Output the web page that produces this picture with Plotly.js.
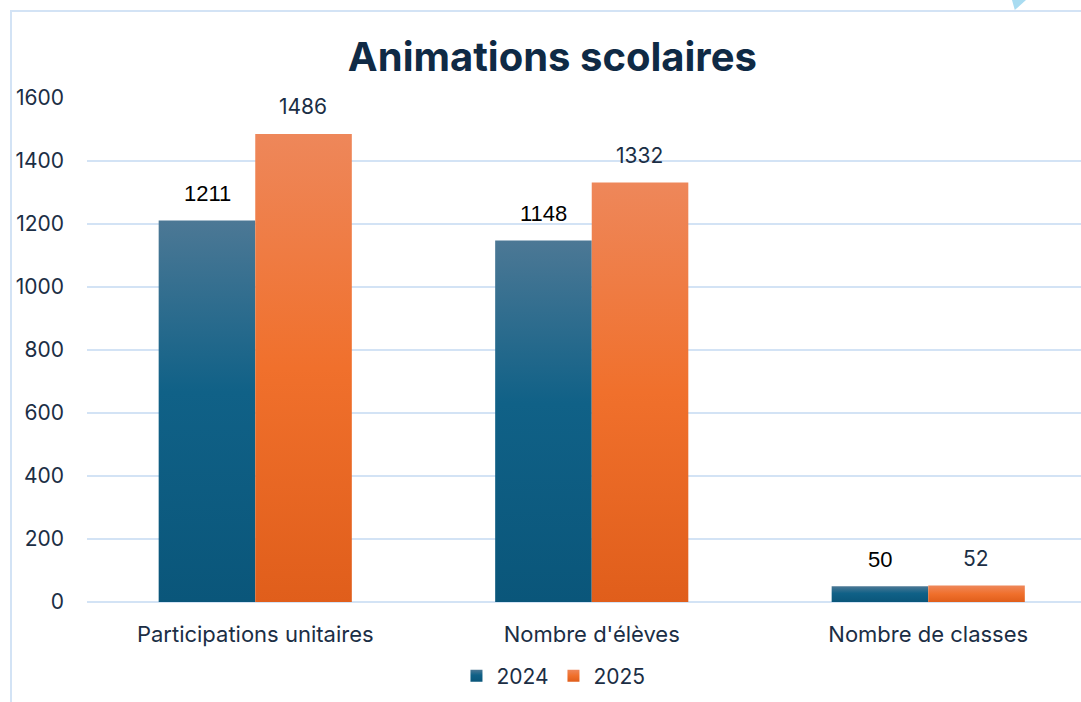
<!DOCTYPE html>
<html>
<head>
<meta charset="utf-8">
<script src="https://cdn.plot.ly/plotly-3.0.1.min.js"></script>
<style>
  html, body { margin: 0; padding: 0; background: #fff; }
  #myGraph { width: 1081px; height: 702px; }
  /* cadre bleu clair (haut + gauche) */
  #cadre {
    position: absolute; left: 10px; top: 10px; right: 0; bottom: 0;
    border-top: 2px solid #d3e3f5; border-left: 2px solid #d3e3f5;
    pointer-events: none;
  }
  #coin {
    position: absolute; left: 1012px; top: 0; width: 14px; height: 10px;
    background: #a9dcf1; clip-path: polygon(0 0, 100% 0, 20% 100%);
    pointer-events: none;
  }
</style>
</head>
<body>
<div id="myGraph"></div>
<div id="cadre"></div>
<div id="coin"></div>
<script>
// données
let categories = ["Participations unitaires", "Nombre d'élèves", "Nombre de classes"];
let annees = ["2024", "2025"];
let valeurs2024 = [1211, 1148, 50];
let valeurs2025 = [1486, 1332, 52];
let yTicks = [0, 200, 400, 600, 800, 1000, 1200, 1400, 1600];

let navy = "#1b2e45";

let trace1 = {
    type: "bar",
    name: annees[0],
    x: categories,
    y: valeurs2024,
    marker: {color: "#10618a"},
    hoverinfo: "skip"
};

let trace2 = {
    type: "bar",
    name: annees[1],
    x: categories,
    y: valeurs2025,
    marker: {color: "#f0702c"},
    hoverinfo: "skip"
};

// étiquettes de valeurs au-dessus des barres
let annotations = [];
for (let i = 0; i < categories.length; i++) {
    annotations.push({
        x: categories[i], y: valeurs2024[i], text: String(valeurs2024[i]),
        xref: "x", yref: "y", showarrow: false, xshift: -48, yshift: 27,
        yanchor: "middle",
        font: {family: "Liberation Sans, Arial, sans-serif", size: 22, color: "#000000"}
    });
    annotations.push({
        x: categories[i], y: valeurs2025[i], text: String(valeurs2025[i]),
        xref: "x", yref: "y", showarrow: false, xshift: 48, yshift: 27,
        yanchor: "middle",
        font: {family: "Inter, sans-serif", size: 21, color: navy}
    });
}

let layout = {
    width: 1081,
    height: 702,
    margin: {t: 98, r: 0, l: 87, b: 100},
    paper_bgcolor: "rgba(0,0,0,0)",
    plot_bgcolor: "rgba(0,0,0,0)",
    font: {family: "Inter, sans-serif", size: 21, color: navy},
    title: {
        text: "<b>Animations scolaires</b>",
        font: {family: "Inter, sans-serif", size: 40, color: "#0f2a45"},
        xref: "container", x: 0.511, xanchor: "center",
        yref: "container", y: 0.919, yanchor: "middle"
    },
    barmode: "group",
    bargap: 0.426,
    bargroupgap: 0,
    xaxis: {
        type: "category",
        range: [-0.5, 2.454],
        showgrid: false,
        showline: false,
        zeroline: false,
        ticks: "",
        ticklabelstandoff: 17,
        tickfont: {family: "Inter, sans-serif", size: 22, color: navy},
        fixedrange: true
    },
    yaxis: {
        range: [0, 1600],
        tickvals: yTicks,
        ticktext: yTicks.map(String),
        showgrid: true,
        gridcolor: "#d3e3f5",
        gridwidth: 2,
        zeroline: true,
        zerolinecolor: "#d3e3f5",
        zerolinewidth: 2,
        showline: false,
        ticks: "",
        ticklabelstandoff: 22,
        tickfont: {family: "Inter, sans-serif", size: 21, color: navy},
        fixedrange: true
    },
    showlegend: true,
    legend: {
        orientation: "h",
        xref: "container", x: 0.512, xanchor: "center",
        yref: "container", y: 0.037, yanchor: "middle",
        entrywidth: 52,
        font: {family: "Inter, sans-serif", size: 21, color: navy},
        itemclick: false, itemdoubleclick: false
    },
    annotations: annotations
};

// dégradés verticaux, un par barre (comme dans Excel)
let degrades = {
    g2024: [["0%", "#4c7895"], ["45%", "#106187"], ["100%", "#0a567a"]],
    g2025: [["0%", "#ee875a"], ["50%", "#f0702c"], ["100%", "#e05e1b"]]
};

function ajouterDegrades(gd) {
    let ns = "http://www.w3.org/2000/svg";
    let defs = gd.querySelector(".main-svg defs");
    Object.keys(degrades).forEach(function (id) {
        let lg = document.createElementNS(ns, "linearGradient");
        lg.setAttribute("id", id);
        lg.setAttribute("x1", "0"); lg.setAttribute("y1", "0");
        lg.setAttribute("x2", "0"); lg.setAttribute("y2", "1");
        degrades[id].forEach(function (s) {
            let st = document.createElementNS(ns, "stop");
            st.setAttribute("offset", s[0]);
            st.setAttribute("stop-color", s[1]);
            lg.appendChild(st);
        });
        defs.appendChild(lg);
    });
    let ids = ["g2024", "g2025"];
    gd.querySelectorAll(".barlayer .trace").forEach(function (t, i) {
        t.querySelectorAll("path").forEach(function (p) { p.style.fill = "url(#" + ids[i] + ")"; });
    });
    gd.querySelectorAll(".legend .traces").forEach(function (t, i) {
        t.querySelectorAll(".legendpoints path").forEach(function (p) { p.style.fill = "url(#" + ids[i] + ")"; });
    });
}

let myGraph = document.getElementById("myGraph");
Plotly.newPlot(myGraph, [trace1, trace2], layout, {displayModeBar: false, staticPlot: true})
    .then(ajouterDegrades);
</script>
</body>
</html>
